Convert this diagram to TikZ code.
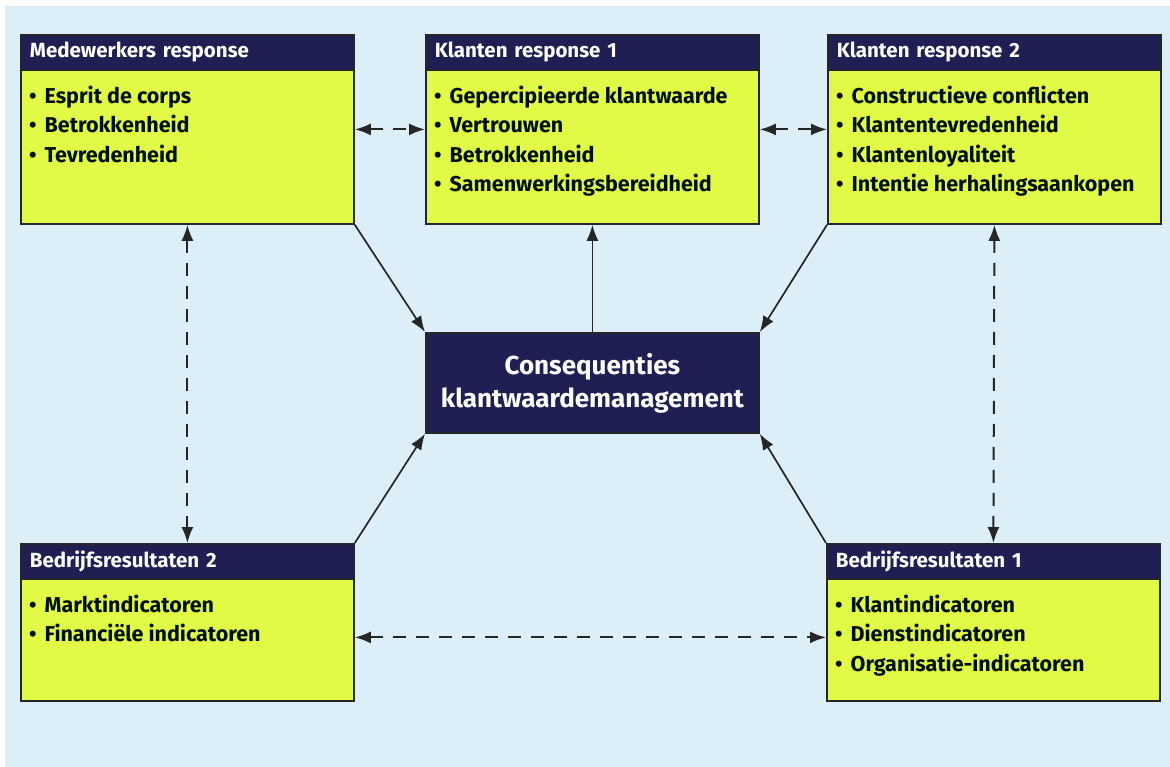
\documentclass[tikz,border=0pt]{standalone}
\usepackage{fontspec}
\setmainfont{Fira Sans}
\usetikzlibrary{positioning,arrows.meta}
\definecolor{achter}{RGB}{220,239,248}
\definecolor{geel}{RGB}{224,250,70}
\definecolor{donker}{RGB}{31,31,84}
\newcommand{\pt}{•\hspace{8pt}}
\tikzset{
	kader/.style={draw=black!85, line width=1.8pt, fill=geel, minimum width=333pt, minimum height=189pt, inner sep=0pt},
	kop/.style={fill=donker, draw=black!85, line width=1.8pt, minimum height=35pt, text width=315pt, inner xsep=9pt, inner ysep=0pt, align=left, text=white, font=\bfseries\fontsize{20.5}{24}\selectfont},
	punten/.style={inner xsep=9pt, inner ysep=0pt, align=left, text=black!85!green!40!black, font=\bfseries\fontsize{21.5}{29.5}\selectfont},
	pijl/.style={-{Latex[length=16pt,width=12pt]}, line width=1.7pt, black!85},
	stippel/.style={{Latex[length=16pt,width=12pt]}-{Latex[length=16pt,width=12pt]}, line width=2pt, dash pattern=on 13pt off 10pt, black!85}
}
\begin{document}
\begin{tikzpicture}[x=1pt,y=-1pt] %pixels
	\useasboundingbox (0,0) rectangle (1170,767);
	\fill[achter] (5,6) rectangle (1170,767);
		%Kaders
	\node[kader, anchor=north west] (mw) at (20,34) {};
	\node[kader, anchor=north west] (k1) at (425,34) {};
	\node[kader, anchor=north west] (k2) at (827,34) {};
	\node[kader, anchor=north west, minimum height=157pt] (b2) at (20,543) {};
	\node[kader, anchor=north west, minimum height=157pt] (b1) at (826,543) {};
		%Koppen
	\node[kop, anchor=north west] (mwkop) at (mw.north west) {Medewerkers response};
	\node[kop, anchor=north west] (k1kop) at (k1.north west) {Klanten response 1};
	\node[kop, anchor=north west] (k2kop) at (k2.north west) {Klanten response 2};
	\node[kop, anchor=north west] (b2kop) at (b2.north west) {Bedrijfsresultaten 2};
	\node[kop, anchor=north west] (b1kop) at (b1.north west) {Bedrijfsresultaten 1};
		%Punten
	\node[punten, below right=15pt and 0pt of mwkop.south west] (mwtxt) {\pt Esprit de corps\\\pt Betrokkenheid\\\pt Tevredenheid};
	\node[punten, below right=15pt and 0pt of k1kop.south west] (k1txt) {\pt Gepercipieerde klantwaarde\\\pt Vertrouwen\\\pt Betrokkenheid\\\pt Samenwerkingsbereidheid};
	\node[punten, below right=15pt and 0pt of k2kop.south west] (k2txt) {\pt Constructieve conflicten\\\pt Klantentevredenheid\\\pt Klantenloyaliteit\\\pt Intentie herhalingsaankopen};
	\node[punten, below right=15pt and 0pt of b2kop.south west] (b2txt) {\pt Marktindicatoren\\\pt Financiële indicatoren};
	\node[punten, below right=15pt and 0pt of b1kop.south west] (b1txt) {\pt Klantindicatoren\\\pt Dienstindicatoren\\\pt Organisatie-indicatoren};
		%Midden
	\node[fill=donker, draw=black!85, line width=1.8pt, minimum width=333pt, minimum height=100pt, anchor=north west, align=center, text=white, font=\bfseries\fontsize{26}{33}\selectfont] (cm) at (425,332) {Consequenties\\klantwaardemanagement};
		%Pijlen
	\draw[pijl] (mw.south east) -- (cm.north west);
	\draw[pijl] (cm.north) -- (k1.south);
	\draw[pijl] (k2.south west) -- (cm.north east);
	\draw[pijl] (b2.north east) -- (cm.south west);
	\draw[pijl] (b1.north west) -- (cm.south east);
		%Stippellijnen
	\draw[stippel] (mw.east) -- (k1.west);
	\draw[stippel] (k1.east) -- (k2.west);
	\draw[stippel] (mw.south) -- (b2.north);
	\draw[stippel] (k2.south) -- (b1.north);
	\draw[stippel] ([yshift=-15pt]b2.east) -- ([yshift=-15pt]b1.west);
\end{tikzpicture}
\end{document}
